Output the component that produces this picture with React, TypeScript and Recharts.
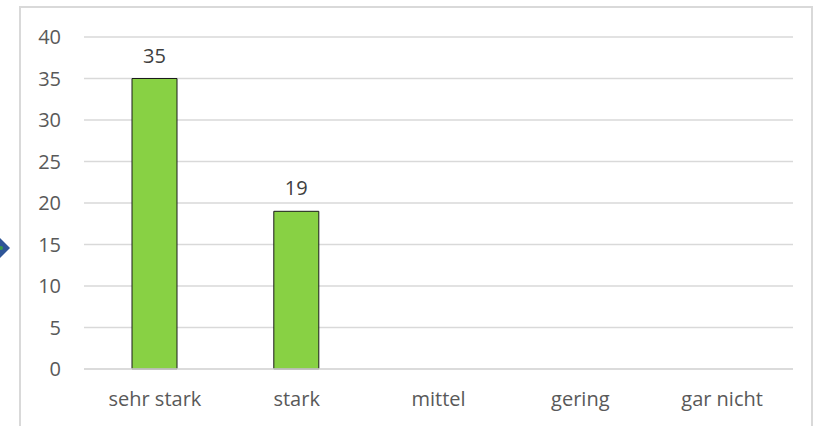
import React from "react";
import { BarChart, Bar, XAxis, YAxis, CartesianGrid, LabelList } from "recharts";

const categories = ["sehr stark", "stark", "mittel", "gering", "gar nicht"];
const counts: (number | null)[] = [35, 19, null, null, null];
const yTicks = [0, 5, 10, 15, 20, 25, 30, 35, 40];

const data = categories.map((name, i) => ({ name, value: counts[i] }));

const font = "'Open Sans', sans-serif";

export default function App() {
  return (
    <div
      style={{
        position: "absolute",
        left: 0,
        top: 0,
        width: 823,
        height: 426,
        overflow: "hidden",
        background: "#fff",
        fontFamily: font
      }}
    >
      {/* frame of the chart area */}
      <div
        style={{
          position: "absolute",
          left: 19,
          top: 6,
          width: 790,
          height: 500,
          border: "2px solid #d9d9d9"
        }}
      />
      {/* leftover shape at the left edge */}
      <svg
        width={14}
        height={30}
        style={{ position: "absolute", left: 0, top: 233 }}
      >
        <polygon points="-10,15 0,5 10,15 0,25" fill="#2f5597" />
        <circle cx={1} cy={15} r={2} fill="#3a9a4a" />
      </svg>
      <div style={{ position: "absolute", left: 0, top: 0 }}>
        <BarChart
          width={823}
          height={426}
          data={data}
          margin={{ top: 37, right: 30, left: 20, bottom: 17 }}
        >
          <CartesianGrid vertical={false} stroke="#d9d9d9" strokeWidth={1.5} />
          <XAxis
            dataKey="name"
            height={40}
            tickLine={false}
            axisLine={{ stroke: "#d9d9d9", strokeWidth: 1.5 }}
            tickMargin={17}
            tick={{ fill: "#595959", fontSize: 20, fontFamily: font }}
          />
          <YAxis
            width={64}
            domain={[0, 40]}
            ticks={yTicks}
            interval={0}
            tickLine={false}
            axisLine={false}
            tickMargin={17}
            tick={{ fill: "#595959", fontSize: 20, fontFamily: font }}
          />
          <Bar
            dataKey="value"
            barSize={45}
            fill="#88d144"
            stroke="#1a1a1a"
            strokeWidth={1}
            isAnimationActive={false}
          >
            <LabelList
              dataKey="value"
              position="top"
              offset={16}
              fill="#404040"
              fontSize={20}
              fontFamily={font}
              formatter={(v: any) => (v ? v : "")}
            />
          </Bar>
        </BarChart>
      </div>
    </div>
  );
}
